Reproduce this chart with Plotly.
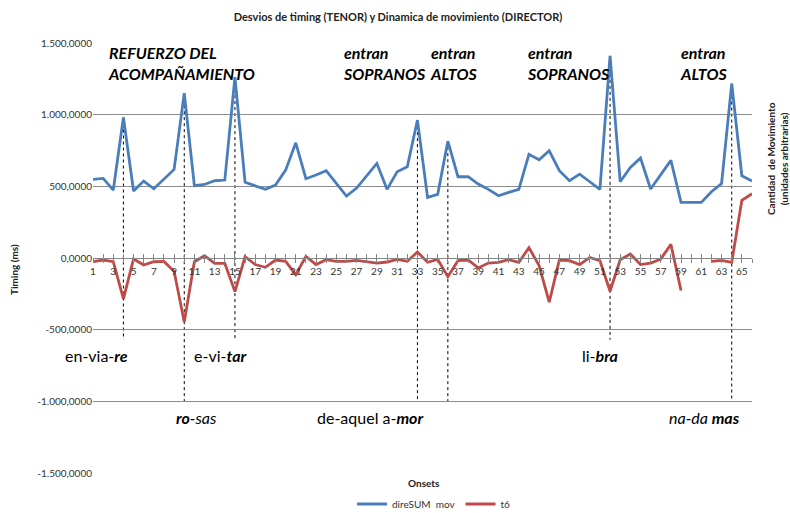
import plotly.graph_objects as go

# onsets 1..66
onsets = list(range(1, 67))

# direSUM mov (blue)
dire_sum_mov = [548, 555, 474, 980, 467, 537, 483, 550, 618, 1150,
                504, 513, 539, 544, 1262, 528, 504, 479, 509, 613,
                804, 553, 579, 609, 520, 432, 488, 574, 660, 479,
                602, 637, 962, 423, 444, 815, 567, 567, 516, 479,
                434, 458, 479, 723, 685, 748, 609, 539, 585, 532,
                479, 1410, 532, 632, 697, 481, 579, 681, 388, 388,
                388, 462, 520, 1217, 574, 537]

# t6 timing deviations (red), gap at 60-61
t6 = [-26, -14, -26, -285, -7, -49, -26, -24, -93, -447,
      -26, 16, -37, -37, -234, 9, -46, -65, -14, -23,
      -116, 11, -46, -12, -23, -23, -16, -26, -35, -28,
      -9, -23, 42, -30, -10, -130, -19, -14, -69, -35,
      -30, -12, -30, 72, -53, -308, -14, -19, -46, 4,
      -19, -232, -12, 28, -46, -35, -7, 95, -227, None,
      None, -23, -16, -30, 403, 448]

# y ticks
y_ticks = [1500, 1000, 500, 0, -500, -1000, -1500]
y_tick_text = ["1.500,0000", "1.000,0000", "500,0000", "0,0000",
               "-500,0000", "-1.000,0000", "-1.500,0000"]

# onsets marked with dashed lines, and how far down each line goes
marked_onsets = [4, 10, 15, 33, 36, 52, 64]
marked_ends = [-570, -1000, -570, -1000, -1000, -570, -1000]

BLUE = "#4A7EBB"
RED = "#BE4B48"
FONT = "Lato"

fig = go.Figure()
fig.add_trace(go.Scatter(x=onsets, y=dire_sum_mov, mode="lines", name="direSUM  mov",
                         line=dict(color=BLUE, width=2.8)))
fig.add_trace(go.Scatter(x=onsets, y=t6, mode="lines", name="t6",
                         line=dict(color=RED, width=2.8), connectgaps=False))
# invisible trace so the inside ticks on xaxis2 get drawn
fig.add_trace(go.Scatter(x=[1, 66], y=[0, 0], xaxis="x2", mode="lines",
                         line=dict(width=0), showlegend=False, hoverinfo="skip"))

# dashed markers from the blue peaks downwards
for o, end in zip(marked_onsets, marked_ends):
    fig.add_shape(type="line", x0=o, x1=o, y0=dire_sum_mov[o - 1], y1=end,
                  xref="x", yref="y", line=dict(color="black", width=1, dash="3px,3px"),
                  layer="below")

# pixel -> paper helpers (plot area 93..752 x 43..473)
def px(xp):
    return (xp - 93) / 659.0

def py(yp):
    return (473 - yp) / 430.0

top_notes = [("REFUERZO DEL<br>ACOMPAÑAMIENTO", 106),
             ("entran<br>SOPRANOS", 341),
             ("entran<br>ALTOS", 428),
             ("entran<br>SOPRANOS", 525),
             ("entran<br>ALTOS", 678)]
for txt, xl in top_notes:
    fig.add_annotation(text="<b><i>" + txt + "</i></b>", x=px(xl), y=py(63),
                       xref="paper", yref="paper", xanchor="left", yanchor="middle",
                       align="left", showarrow=False,
                       font=dict(family=FONT, size=16, color="black"))

lyrics = [("en-via-<b><i>re</i></b>", 96, 355),
          ("e-vi-<b><i>tar</i></b>", 220, 355),
          ("li-<b><i>bra</i></b>", 600, 355),
          ("<b><i>ro</i></b><i>-sas</i>", 196, 417),
          ("de-aquel a-<b><i>mor</i></b>", 370, 417),
          ("<i>na-da </i><b><i>mas</i></b>", 704, 417)]
for txt, xc, yc in lyrics:
    fig.add_annotation(text=txt, x=px(xc), y=py(yc), xref="paper", yref="paper",
                       xanchor="center", yanchor="middle", showarrow=False,
                       font=dict(family=FONT, size=16, color="black"))

# axis titles
fig.add_annotation(text="<b>Timing (ms)</b>", x=px(14), y=py(270), xref="paper", yref="paper",
                   xanchor="center", yanchor="middle",
                   textangle=-90, showarrow=False, font=dict(family=FONT, size=10, color="#222"))
fig.add_annotation(text="<b>Cantidad  de Movimiento<br>(unidades arbitrarias)</b>",
                   x=px(777), y=py(159), xref="paper", yref="paper",
                   xanchor="center", yanchor="middle",
                   textangle=-90, showarrow=False, font=dict(family=FONT, size=10, color="#222"))
fig.add_annotation(text="<b>Onsets</b>", x=px(424), y=py(483), xref="paper", yref="paper",
                   xanchor="center", yanchor="middle",
                   showarrow=False, font=dict(family=FONT, size=10, color="#222"))

fig.update_layout(
    width=790, height=513,
    margin=dict(l=93, r=38, t=43, b=40, autoexpand=False),
    paper_bgcolor="white", plot_bgcolor="white",
    font=dict(family=FONT, size=10, color="#333"),
    title=dict(text="<b>Desvios de timing (TENOR) y Dinamica de movimiento (DIRECTOR)</b>",
               x=398 / 790, y=1 - 17 / 513, xanchor="center", yanchor="middle",
               font=dict(family=FONT, size=11, color="#222")),
    showlegend=True,
    legend=dict(orientation="h", x=px(434), y=py(504), xanchor="center", yanchor="middle",
                font=dict(family=FONT, size=10, color="#333")),
    xaxis=dict(range=[1, 66], anchor="free", position=0.5, showgrid=False,
               zeroline=False, showline=True, linecolor="#868686", linewidth=1,
               tickvals=list(range(1, 66, 2)), ticks="outside", ticklen=4,
               tickcolor="#868686", tickfont=dict(size=10, color="#333"),
               minor=dict(dtick=1, ticks="outside", ticklen=4, tickcolor="#868686")),
    xaxis2=dict(range=[1, 66], overlaying="x", anchor="free", position=0.5, side="bottom",
                showgrid=False, zeroline=False, showticklabels=False,
                tickvals=onsets, ticks="inside", ticklen=4, tickcolor="#868686"),
    yaxis=dict(range=[-1500, 1500], tickvals=y_ticks, ticktext=y_tick_text,
               showgrid=True, gridcolor="#8C8C8C", gridwidth=1, zeroline=False,
               showline=False, ticks="", tickfont=dict(size=10, color="#333")),
)

fig.write_html("out.html", config={"displayModeBar": False},
               post_script="document.body.style.margin='0';")
